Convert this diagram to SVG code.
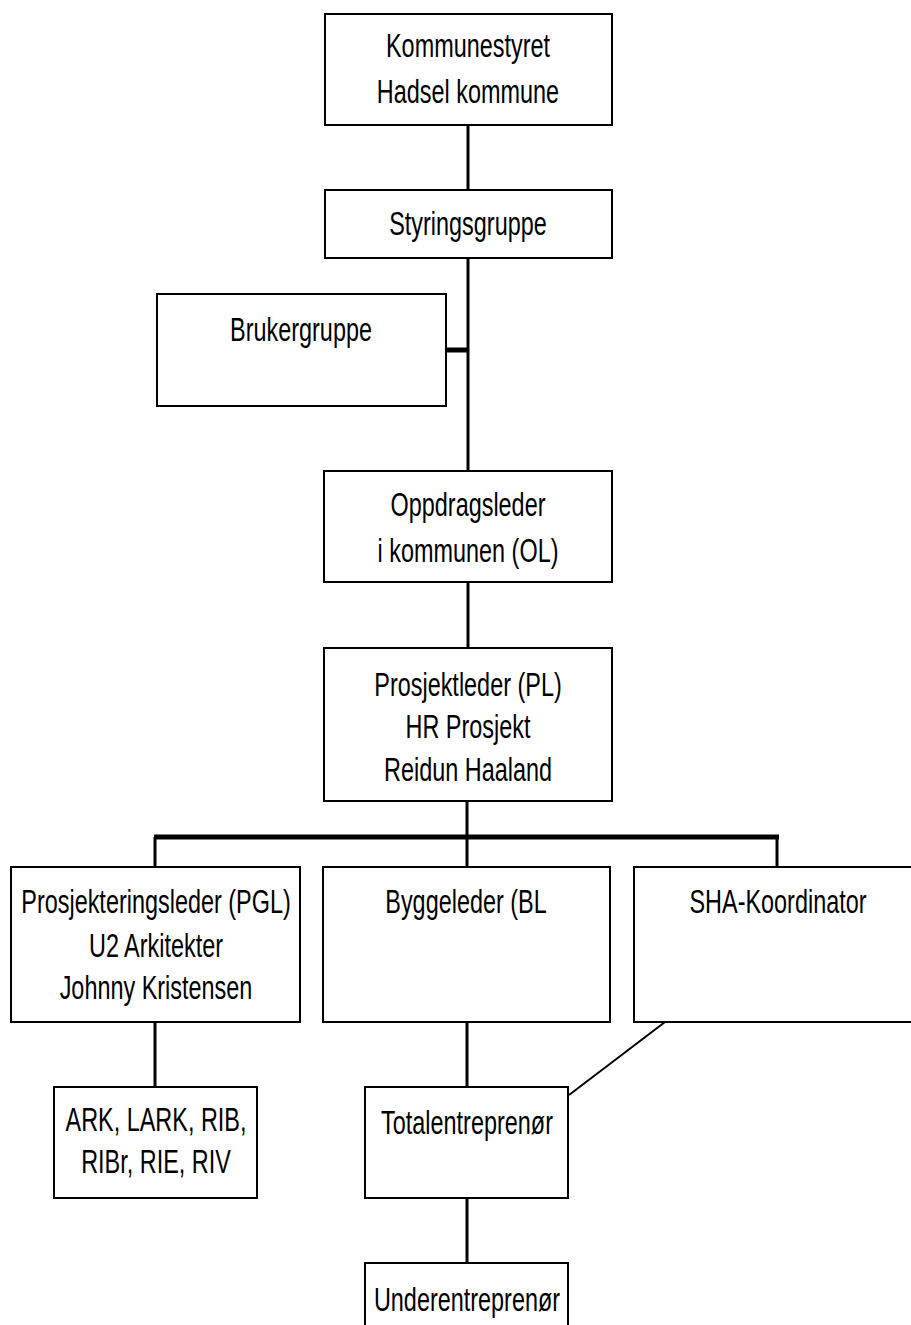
<svg xmlns="http://www.w3.org/2000/svg" width="911" height="1325" viewBox="0 0 911 1325">
<style>
.box{fill:#fff;stroke:#000;stroke-width:2}
.t{font-family:"Liberation Sans",Arial,sans-serif;font-size:33px;fill:#000;text-anchor:middle}
.c{stroke:#000;stroke-width:3;fill:none}
.bus{stroke:#000;stroke-width:5;fill:none}
</style>
<rect width="911" height="1325" fill="#fff"/>
<g id="connectors">
<line class="c" x1="468" y1="125" x2="468" y2="190"/>
<line class="c" x1="468" y1="258" x2="468" y2="471"/>
<line class="bus" x1="446" y1="350" x2="468" y2="350"/>
<line class="c" x1="468" y1="582" x2="468" y2="648"/>
<line class="c" x1="467" y1="801" x2="467" y2="837"/>
<line class="bus" x1="154" y1="837" x2="779" y2="837"/>
<line class="c" x1="155" y1="837" x2="155" y2="867"/>
<line class="c" x1="467" y1="837" x2="467" y2="867"/>
<line class="c" x1="777" y1="837" x2="777" y2="867"/>
<line class="c" x1="155" y1="1022" x2="155" y2="1087"/>
<line class="c" x1="467" y1="1022" x2="467" y2="1087"/>
<line class="c" x1="467" y1="1198" x2="467" y2="1263"/>
<line x1="665" y1="1022" x2="569" y2="1095" stroke="#000" stroke-width="2"/>
</g>
<g id="kommunestyret">
<rect class="box" x="325" y="14" width="287" height="111"/>
<text class="t" transform="translate(468,0) scale(0.71,1)"><tspan x="0" y="57">Kommunestyret</tspan><tspan x="0" y="103">Hadsel kommune</tspan></text>
</g>
<g id="styringsgruppe">
<rect class="box" x="325" y="190" width="287" height="68"/>
<text class="t" transform="translate(468,0) scale(0.71,1)"><tspan x="0" y="235">Styringsgruppe</tspan></text>
</g>
<g id="brukergruppe">
<rect class="box" x="157" y="294" width="289" height="112"/>
<text class="t" transform="translate(301,0) scale(0.71,1)"><tspan x="0" y="341">Brukergruppe</tspan></text>
</g>
<g id="oppdragsleder">
<rect class="box" x="324" y="471" width="288" height="111"/>
<text class="t" transform="translate(468,0) scale(0.71,1)"><tspan x="0" y="516">Oppdragsleder</tspan><tspan x="0" y="562">i kommunen (OL)</tspan></text>
</g>
<g id="prosjektleder">
<rect class="box" x="324" y="648" width="288" height="153"/>
<text class="t" transform="translate(468,0) scale(0.71,1)"><tspan x="0" y="696">Prosjektleder (PL)</tspan><tspan x="0" y="738">HR Prosjekt</tspan><tspan x="0" y="781">Reidun Haaland</tspan></text>
</g>
<g id="prosjekteringsleder">
<rect class="box" x="11" y="867" width="289" height="155"/>
<text class="t" transform="translate(156,0) scale(0.71,1)"><tspan x="0" y="913">Prosjekteringsleder (PGL)</tspan><tspan x="0" y="957">U2 Arkitekter</tspan><tspan x="0" y="999">Johnny Kristensen</tspan></text>
</g>
<g id="byggeleder">
<rect class="box" x="323" y="867" width="287" height="155"/>
<text class="t" transform="translate(466,0) scale(0.71,1)"><tspan x="0" y="913">Byggeleder (BL</tspan></text>
</g>
<g id="sha-koordinator">
<rect class="box" x="634" y="867" width="290" height="155"/>
<text class="t" transform="translate(778,0) scale(0.71,1)"><tspan x="0" y="913">SHA-Koordinator</tspan></text>
</g>
<g id="ark">
<rect class="box" x="54" y="1087" width="203" height="111"/>
<text class="t" transform="translate(156,0) scale(0.71,1)"><tspan x="0" y="1131">ARK, LARK, RIB,</tspan><tspan x="0" y="1173">RIBr, RIE, RIV</tspan></text>
</g>
<g id="totalentreprenor">
<rect class="box" x="365" y="1087" width="203" height="111"/>
<text class="t" transform="translate(467,0) scale(0.71,1)"><tspan x="0" y="1134">Totalentreprenør</tspan></text>
</g>
<g id="underentreprenor">
<rect class="box" x="365" y="1263" width="203" height="90"/>
<text class="t" transform="translate(467,0) scale(0.71,1)"><tspan x="0" y="1311">Underentreprenør</tspan></text>
</g>
</svg>
